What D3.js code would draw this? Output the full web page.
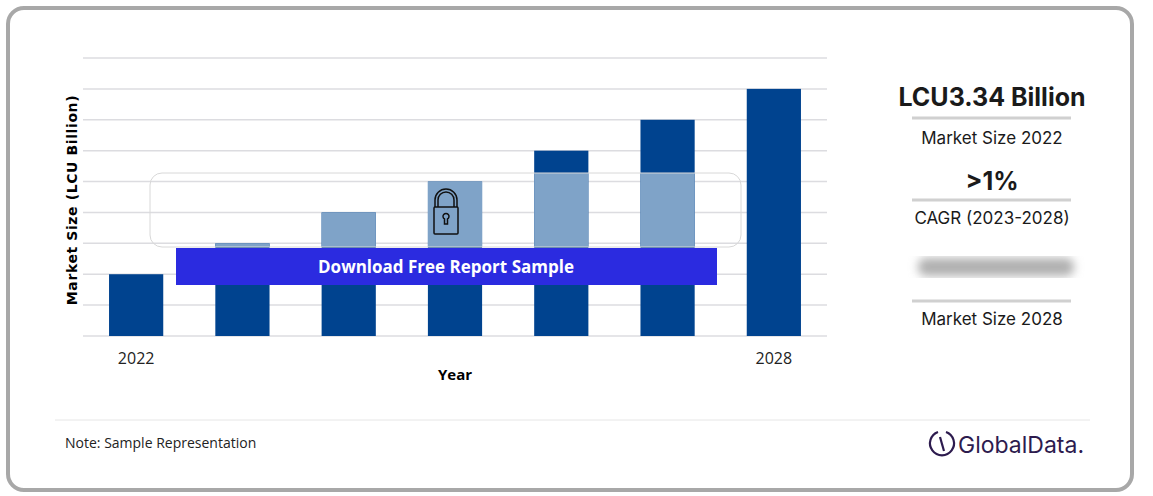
<!DOCTYPE html>
<html><head><meta charset="utf-8">
<script src="https://cdn.jsdelivr.net/npm/d3@7"></script>
<style>body{margin:0;background:#fff;font-family:"Open Sans",sans-serif}</style>
</head><body><div class="container"></div>
<script>
var years = ["2022", "2023", "2024", "2025", "2026", "2027", "2028"];
var values = [2, 3, 4, 5, 6, 7, 8];
var tickLabels = ["2022", "", "", "", "", "", "2028"];
var gridValues = [0, 1, 2, 3, 4, 5, 6, 7, 8, 9];

const WIDTH = 1153, HEIGHT = 496;
var svg = d3.select('.container').append('svg').attr('width', WIDTH).attr('height', HEIGHT);

var defs = svg.append('defs');
defs.append('filter').attr('id', 'blur').append('feGaussianBlur').attr('stdDeviation', 5);
defs.append('clipPath').attr('id', 'ov').append('rect')
  .attr('x', 150).attr('y', 173).attr('width', 591).attr('height', 74).attr('rx', 12);

// card
svg.append('rect').attr('x', 8).attr('y', 8).attr('width', 1124).attr('height', 482).attr('rx', 16)
  .attr('fill', '#fff').attr('stroke', '#a8a8a8').attr('stroke-width', 4);
svg.append('line').attr('x1', 55).attr('x2', 1090).attr('y1', 420).attr('y2', 420).attr('stroke', '#e6e6e6');

var x = d3.scaleBand().domain(years).range([83, 827]).paddingInner(0.49).paddingOuter(0.245);
var y = d3.scaleLinear().domain([0, 9]).range([336, 58]);

svg.append('g').selectAll('line').data(gridValues).enter().append('line')
  .attr('x1', 83).attr('x2', 827).attr('y1', d => y(d)).attr('y2', d => y(d))
  .attr('stroke', '#dcdce0').attr('stroke-width', 1.5);

function bars(g, color) {
  g.selectAll('rect').data(values).enter().append('rect')
    .attr('x', (d, i) => x(years[i])).attr('width', x.bandwidth())
    .attr('y', d => y(d)).attr('height', d => y(0) - y(d)).attr('fill', color);
}
bars(svg.append('g'), '#00438f');
bars(svg.append('g').attr('clip-path', 'url(#ov)'), '#7fa3c8');

svg.append('rect').attr('x', 150).attr('y', 173).attr('width', 591).attr('height', 74).attr('rx', 12)
  .attr('fill', 'none').attr('stroke', '#d8d8d8');

// x axis
var xAxis = d3.axisBottom(x).tickSize(0).tickFormat((d, i) => tickLabels[i]);
var gx = svg.append('g').attr('transform', 'translate(0,350)').call(xAxis);
gx.select('.domain').remove();
gx.selectAll('text').attr('font-size', 16).attr('font-family', '"Liberation Sans Narrow","Open Sans",sans-serif').attr('fill', '#222');
svg.append('text').attr('x', 455).attr('y', 380).attr('text-anchor', 'middle')
  .attr('font-weight', 'bold').attr('font-size', 15).text('Year');
svg.append('text').attr('transform', 'translate(77,200) rotate(-90)').attr('text-anchor', 'middle')
  .attr('font-weight', 'bold').attr('font-size', 14).attr('letter-spacing', 0.6).attr('font-family', 'DejaVu Sans,sans-serif').text('Market Size (LCU Billion)');

// lock
var lk = svg.append('g').attr('transform', 'translate(446,216)').attr('fill', 'none').attr('stroke', '#111').attr('stroke-width', 1.5);
lk.append('path').attr('d', 'M-11,-9 V-16 A11,11 0 0 1 11,-16 V-9');
lk.append('path').attr('d', 'M-8,-9 V-16 A8,8 0 0 1 8,-16 V-9');
lk.append('rect').attr('x', -12).attr('y', -9).attr('width', 24).attr('height', 27).attr('rx', 1);
lk.append('path').attr('d', 'M-1.5,8 V3 A3,3 0 1 1 1.5,3 V8 Z');

// button
svg.append('rect').attr('x', 176).attr('y', 248).attr('width', 541).attr('height', 37).attr('fill', '#2b2be0');
svg.append('text').attr('x', 446).attr('y', 273).attr('text-anchor', 'middle').attr('fill', '#fff')
  .attr('font-size', 17).attr('font-weight', 'bold').attr('font-family', '"Liberation Sans Narrow","Open Sans",sans-serif').text('Download Free Report Sample');

// right panel
var cx = 992;
function t(yy, s, size, w) {
  svg.append('text').attr('x', cx).attr('y', yy).attr('text-anchor', 'middle').attr('font-size', size)
    .attr('font-weight', w || 'normal').attr('fill', '#1a1a1a').attr('font-family', 'Inter,"Noto Sans",sans-serif').text(s);
}
function sep(yy) {
  svg.append('line').attr('x1', 912).attr('x2', 1071).attr('y1', yy).attr('y2', yy).attr('stroke', '#d0d0d0').attr('stroke-width', 3);
}
t(106, 'LCU3.34 Billion', 25, 'bold'); sep(118);
t(144, 'Market Size 2022', 17);
t(190, '>1%', 25, 'bold'); sep(200);
t(224, 'CAGR (2023-2028)', 17);
svg.append('rect').attr('x', 918).attr('y', 258).attr('width', 156).attr('height', 18).attr('rx', 8)
  .attr('fill', '#b0b0b0').attr('filter', 'url(#blur)');
sep(301);
t(325, 'Market Size 2028', 17);

svg.append('text').attr('x', 65).attr('y', 448).attr('font-size', 14).attr('fill', '#222').text('Note: Sample Representation');
var lg = svg.append('g').attr('transform', 'translate(942,444)').attr('stroke', '#2d1b4e').attr('fill', 'none').attr('stroke-width', 2.2);
lg.append('path').attr('d', 'M-4,-12 A12,12 0 1 0 4,-12');
lg.append('line').attr('x1', -2).attr('y1', -7).attr('x2', 2).attr('y2', 7);
svg.append('text').attr('x', 958).attr('y', 453).attr('font-size', 23).attr('fill', '#2d1b4e')
  .attr('font-family', 'Inter,sans-serif').text('GlobalData.');
</script></body></html>
